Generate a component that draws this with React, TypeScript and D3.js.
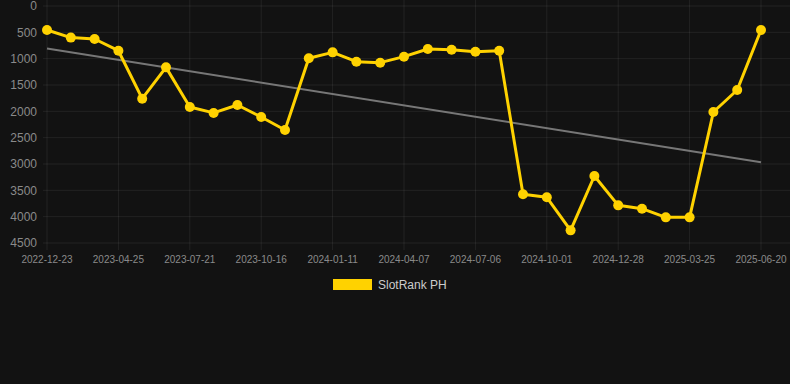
import React from "react"
import * as d3 from "d3"

// rank values, one every ~29 days
const rankValues = [
  456, 600, 627, 849, 1760, 1165, 1918, 2030, 1880, 2108, 2355,
  993, 880, 1057, 1076, 962, 816, 830, 867, 849,
  3576, 3633, 4260, 3228, 3785, 3848, 4013, 4013, 2013, 1595, 456,
]

// labels shown on every third point
const dateLabels = [
  "2022-12-23", "2023-04-25", "2023-07-21", "2023-10-16", "2024-01-11",
  "2024-04-07", "2024-07-06", "2024-10-01", "2024-12-28", "2025-03-25",
  "2025-06-20",
]

const yTicks = [0, 500, 1000, 1500, 2000, 2500, 3000, 3500, 4000, 4500]
const seriesName = "SlotRank PH"

const width = 790
const height = 384
const gold = "#ffd200"
const gridColor = "rgba(255,255,255,0.07)"
const tickColor = "#8a8a8a"

export default function App() {
  const x = d3.scalePoint<number>().domain(d3.range(rankValues.length)).range([47, 761])
  const y = d3.scaleLinear().domain([0, 4500]).range([6, 243])

  // least squares trend
  const n = rankValues.length
  const mx = d3.mean(d3.range(n)) as number
  const my = d3.mean(rankValues) as number
  const slope =
    d3.sum(rankValues, (v, i) => (i - mx) * (v - my)) /
    d3.sum(d3.range(n), i => (i - mx) * (i - mx))
  const trend = (i: number) => my + slope * (i - mx)

  const line = d3
    .line<number>()
    .x((_, i) => x(i) as number)
    .y(v => y(v))

  return (
    <svg
      width={width}
      height={height}
      style={{ position: "absolute", left: 0, top: 0, background: "#121212", fontFamily: "Arial, 'Liberation Sans', sans-serif" }}
    >
      <rect width={width} height={height} fill="#121212" />
      {yTicks.map(t => (
        <g key={t}>
          <line x1={43} x2={790} y1={y(t)} y2={y(t)} stroke={gridColor} />
          <text x={37} y={y(t)} dy="0.35em" textAnchor="end" fontSize={12} fill={tickColor}>
            {t}
          </text>
        </g>
      ))}
      {dateLabels.map((d, k) => {
        const px = x(k * 3) as number
        return (
          <g key={d}>
            <line x1={px} x2={px} y1={0} y2={250} stroke={gridColor} />
            <text x={px} y={263} textAnchor="middle" fontSize={10} fill={tickColor}>
              {d}
            </text>
          </g>
        )
      })}
      <line
        x1={x(0)}
        x2={x(n - 1)}
        y1={y(trend(0))}
        y2={y(trend(n - 1))}
        stroke="#777"
        strokeWidth={2}
      />
      <path d={line(rankValues) ?? ""} fill="none" stroke={gold} strokeWidth={3} strokeLinejoin="round" />
      {rankValues.map((v, i) => (
        <circle key={i} cx={x(i)} cy={y(v)} r={5} fill={gold} />
      ))}
      <rect x={333} y={279} width={39} height={11} fill={gold} />
      <text x={378} y={285} dy="0.35em" fontSize={12} fill="#cccccc">
        {seriesName}
      </text>
    </svg>
  )
}
